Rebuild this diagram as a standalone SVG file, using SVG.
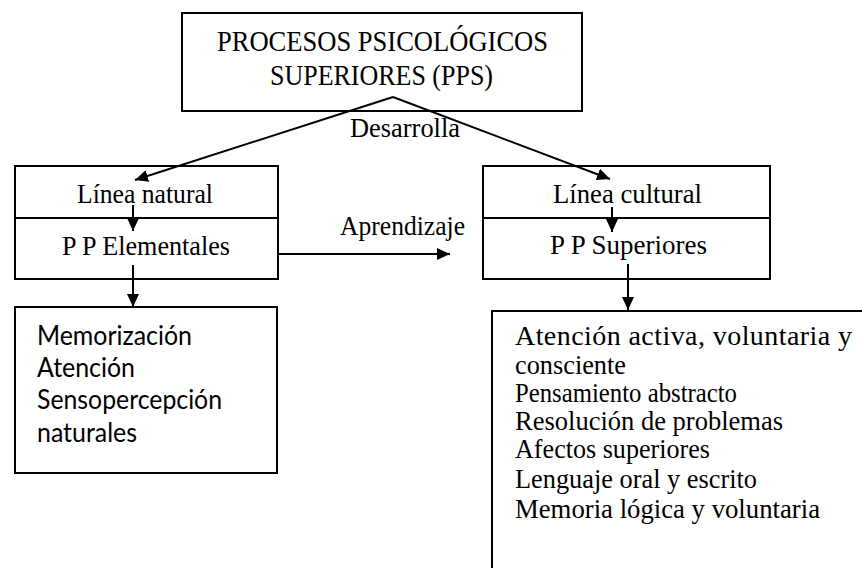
<svg xmlns="http://www.w3.org/2000/svg" width="862" height="568" viewBox="0 0 862 568">
<style>
.box{fill:#fff;stroke:#000;stroke-width:2}
.sep{stroke:#000;stroke-width:2}
.ser{font-family:"Liberation Serif","Times New Roman",serif;font-size:28px;fill:#000}
.big{font-size:30px}
.san{font-family:Lato,"Noto Sans",sans-serif;font-size:27px;fill:#000}
.con{stroke:#000;stroke-width:2;fill:none;marker-end:url(#ah)}
</style>
<defs>
<marker id="ah" markerUnits="userSpaceOnUse" markerWidth="14" markerHeight="12" refX="13" refY="6" orient="auto">
<path d="M0,0 L13,6 L0,12 z" fill="#000"/>
</marker>
</defs>
<rect width="862" height="568" fill="#fff"/>
<g id="top">
<rect class="box" x="182" y="13" width="400" height="98"/>
<text class="ser big" x="217" y="51" textLength="331" lengthAdjust="spacingAndGlyphs">PROCESOS PSICOLÓGICOS</text>
<text class="ser big" x="270" y="85" textLength="223" lengthAdjust="spacingAndGlyphs">SUPERIORES (PPS)</text>
</g>
<g id="natural">
<rect class="box" x="15" y="166" width="263" height="113"/>
<line class="sep" x1="15" y1="218" x2="278" y2="218"/>
<text class="ser" x="77" y="203" textLength="136" lengthAdjust="spacingAndGlyphs">Línea natural</text>
<text class="ser" x="62" y="255" textLength="168" lengthAdjust="spacingAndGlyphs">P P Elementales</text>
</g>
<g id="cultural">
<rect class="box" x="483" y="166" width="287" height="113"/>
<line class="sep" x1="483" y1="218" x2="770" y2="218"/>
<text class="ser" x="553" y="203" textLength="149" lengthAdjust="spacingAndGlyphs">Línea cultural</text>
<text class="ser" x="550" y="254" textLength="157" lengthAdjust="spacingAndGlyphs">P P Superiores</text>
</g>
<g id="elementales-list">
<rect class="box" x="15" y="307" width="262" height="166"/>
<text class="san" x="37" y="345" textLength="155" lengthAdjust="spacingAndGlyphs">Memorización</text>
<text class="san" x="37" y="377" textLength="98" lengthAdjust="spacingAndGlyphs">Atención</text>
<text class="san" x="37" y="409" textLength="185" lengthAdjust="spacingAndGlyphs">Sensopercepción</text>
<text class="san" x="37" y="442" textLength="100" lengthAdjust="spacingAndGlyphs">naturales</text>
</g>
<g id="superiores-list">
<rect class="box" x="492" y="311" width="420" height="300"/>
<text class="ser" x="515" y="345" textLength="337" lengthAdjust="spacing">Atención activa, voluntaria y</text>
<text class="ser" x="515" y="374" textLength="111" lengthAdjust="spacingAndGlyphs">consciente</text>
<text class="ser" x="515" y="402" textLength="222" lengthAdjust="spacingAndGlyphs">Pensamiento abstracto</text>
<text class="ser" x="515" y="430" textLength="268" lengthAdjust="spacingAndGlyphs">Resolución de problemas</text>
<text class="ser" x="515" y="458" textLength="195" lengthAdjust="spacingAndGlyphs">Afectos superiores</text>
<text class="ser" x="515" y="488" textLength="242" lengthAdjust="spacingAndGlyphs">Lenguaje oral y escrito</text>
<text class="ser" x="515" y="518" textLength="305" lengthAdjust="spacingAndGlyphs">Memoria lógica y voluntaria</text>
</g>
<g id="connectors">
<line class="con" x1="393" y1="97" x2="135" y2="180"/>
<line class="con" x1="393" y1="97" x2="610" y2="179"/>
<line class="con" x1="133" y1="205" x2="133" y2="231"/>
<line class="con" x1="133" y1="265" x2="133" y2="307"/>
<line class="con" x1="278" y1="254" x2="450" y2="254"/>
<line class="con" x1="612" y1="207" x2="612" y2="232"/>
<line class="con" x1="628" y1="264" x2="628" y2="310"/>
<text class="ser" x="350" y="137" textLength="110" lengthAdjust="spacingAndGlyphs">Desarrolla</text>
<text class="ser" x="340" y="235" textLength="125" lengthAdjust="spacingAndGlyphs">Aprendizaje</text>
</g>
</svg>
